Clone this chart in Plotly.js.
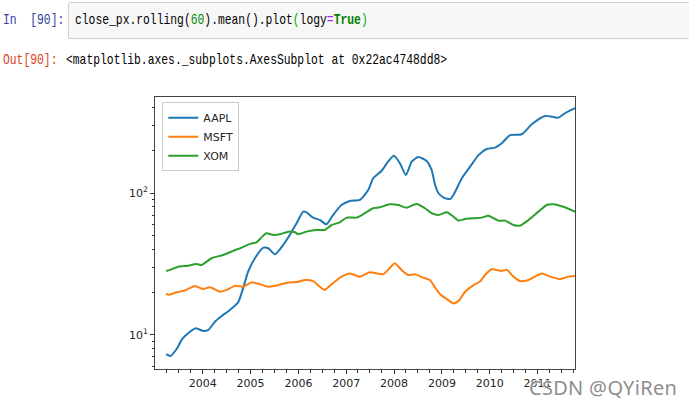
<!DOCTYPE html>
<html>
<head>
<meta charset="utf-8">
<script src="https://cdn.plot.ly/plotly-3.0.1.min.js"></script>
<style>
  html, body { margin:0; padding:0; background:#fff; width:689px; height:407px; overflow:hidden; }
  #chart { position:absolute; left:0; top:0; width:689px; height:407px; }
  .nb { position:absolute; z-index:10; font-family:"Liberation Mono", "DejaVu Sans Mono", monospace; font-size:15px; white-space:pre; transform-origin:left center; transform:scaleX(0.756); line-height:18px; }
  #inbox { position:absolute; z-index:9; left:68px; top:2px; width:640px; height:35px; background:#f7f7f7; border:1px solid #cfcfcf; border-radius:2px; }
  #wm { position:absolute; z-index:11; left:529px; top:374px; font-family:"Noto Sans", sans-serif; font-size:20px; color:#8e8e8e; white-space:pre; text-shadow:0 0 2px #fff, 0 0 2px #fff; letter-spacing:0.3px; }
</style>
</head>
<body>
<div id="chart"></div>
<div id="inbox"></div>
<div class="nb" style="left:3px; top:12px; color:#303F9F;">In  [90]:</div>
<div class="nb" style="left:75px; top:12px; color:#000;">close_px.rolling<span style="color:#000">(</span><span style="color:#008800">60</span>).mean().plot<span style="color:#00aa00">(</span>logy<span style="color:#AA22FF">=</span><span style="color:#008000;font-weight:bold">True</span><span style="color:#00aa00">)</span></div>
<div class="nb" style="left:3px; top:52px; color:#D84315;">Out[90]:</div>
<div class="nb" style="left:66px; top:52px; color:#000;">&lt;matplotlib.axes._subplots.AxesSubplot at 0x22ac4748dd8&gt;</div>
<div id="wm">CSDN @QYiRen</div>
<script>
const seriesNames = ['AAPL', 'MSFT', 'XOM'];
const seriesColors = ['#1f77b4', '#ff7f0e', '#2ca02c'];

const aaplDates = ['2003-03-28','2003-05-01','2003-06-16','2003-07-28','2003-09-12','2003-11-08','2004-01-05','2004-02-13','2004-04-04','2004-05-25','2004-07-27','2004-09-28','2004-11-05','2004-12-13','2005-02-03','2005-04-08','2005-05-16','2005-07-06','2005-09-07','2005-10-28','2005-12-18','2006-02-07','2006-03-04','2006-04-23','2006-06-13','2006-08-03','2006-09-23','2006-11-26','2007-01-29','2007-04-15','2007-06-18','2007-07-26','2007-09-27','2007-11-16','2007-12-31','2008-02-15','2008-04-01','2008-05-15','2008-07-04','2008-09-06','2008-10-14','2008-11-10','2008-12-06','2009-01-14','2009-03-04','2009-03-30','2009-06-02','2009-08-04','2009-10-07','2009-12-09','2010-02-11','2010-04-03','2010-06-05','2010-09-03','2010-11-18','2011-02-28','2011-06-09','2011-07-29','2011-10-02','2011-10-14'];
const aaplValues = [7.31,7.1,7.96,9.33,10.28,11.15,10.66,10.85,12.4,13.6,15.0,17.0,21.4,28.0,34.8,41.3,40.9,37.1,43.2,51,61.4,74.2,73.4,67.3,64.8,60.4,70.3,82.6,88.3,89.8,105.4,127.6,143.6,167,184,163,134.6,167,180,169,146,114.5,100,93.1,91.1,97.3,127.6,154,186,205.4,210,225.4,257.6,260.8,307,351.4,341.8,367,393.6,398];

const msftDates = ['2003-03-28','2003-04-13','2003-06-16','2003-08-18','2003-11-02','2004-01-05','2004-02-25','2004-05-12','2004-07-02','2004-09-03','2004-11-05','2005-01-09','2005-03-13','2005-05-16','2005-07-19','2005-10-03','2005-12-18','2006-02-20','2006-04-23','2006-06-13','2006-07-21','2006-09-11','2006-11-26','2007-01-29','2007-04-15','2007-07-01','2007-10-09','2007-11-29','2008-01-07','2008-02-27','2008-04-18','2008-06-08','2008-08-10','2008-10-01','2008-11-10','2008-12-18','2009-02-08','2009-03-30','2009-05-08','2009-06-27','2009-08-30','2009-10-19','2009-11-26','2010-01-17','2010-04-03','2010-05-11','2010-07-01','2010-08-20','2010-10-24','2011-02-02','2011-04-06','2011-06-21','2011-08-24','2011-10-14'];
const msftValues = [19.7,19.2,20.0,20.6,22.2,21.1,21.7,20.2,20.8,22.2,21.9,23.5,22.8,21.9,22.3,23.4,23.6,24.4,24.0,21.9,20.8,22.8,25.8,27.2,25.8,27.7,26.8,29.6,32.1,28.8,26.5,26.8,25.4,24.4,21.6,19.4,17.9,16.7,17.4,20.2,22.5,23.8,26.5,29.1,28.3,28.8,25.8,24.0,24.4,27.2,25.8,24.8,25.8,26.1];

const xomDates = ['2003-03-28','2003-04-26','2003-06-28','2003-09-12','2003-11-15','2003-12-23','2004-03-09','2004-06-06','2004-08-21','2004-10-24','2004-12-27','2005-02-16','2005-03-26','2005-05-03','2005-06-23','2005-08-13','2005-10-15','2005-12-05','2005-12-30','2006-03-04','2006-05-19','2006-07-21','2006-09-11','2006-11-13','2007-01-04','2007-03-21','2007-05-23','2007-07-26','2007-09-15','2007-11-29','2008-02-02','2008-04-06','2008-06-21','2008-08-24','2008-10-16','2008-12-06','2009-02-08','2009-03-30','2009-05-08','2009-06-27','2009-09-11','2009-11-01','2009-12-22','2010-03-08','2010-04-28','2010-07-01','2010-08-20','2010-10-24','2011-01-08','2011-03-12','2011-05-02','2011-07-17','2011-10-14'];
const xomValues = [28.3,28.8,30.3,30.8,31.7,31.2,34.8,36.7,39.2,41.3,43.9,45.1,48.9,52.2,50.8,51.4,53.6,53.1,51.4,53.6,55.1,55.1,59.7,62.4,67.3,67.3,72.3,78.4,79.6,83.6,82.6,79.1,84.0,78.4,72.3,70.3,73.4,68.4,64.1,65.9,66.7,67.3,69.5,64.1,64.1,59.7,59.1,64.8,74.2,82.6,83.6,80.4,74.2];

const xRange = ['2003-01-02', '2011-10-14'];
const yearTickLabels = ['2004','2005','2006','2007','2008','2009','2010','2011'];
const yTickValues = [10, 100];
const yTickLabels = ['10<sup>1</sup>', '10<sup>2</sup>'];
const yMinorTicks = [6,7,8,9,20,30,40,50,60,70,80,90,200,300,400];
const yRange = [5.75, 478];

const dates = [aaplDates, msftDates, xomDates];
const values = [aaplValues, msftValues, xomValues];

const traces = seriesNames.map((n, i) => ({
  x: dates[i], y: values[i], name: n, type: 'scatter', mode: 'lines',
  line: { color: seriesColors[i], width: 2, shape: 'spline', smoothing: 0.6 }
}));

const tickFont = { family: 'DejaVu Sans', size: 11, color: '#262626' };
const layout = {
  width: 689, height: 407,
  margin: { l: 155, r: 114, t: 97, b: 38, pad: 0 },
  paper_bgcolor: 'rgba(0,0,0,0)', plot_bgcolor: '#fff',
  showlegend: true,
  legend: {
    x: 0.0174, y: 0.981, xanchor: 'left', yanchor: 'top',
    bgcolor: 'rgba(255,255,255,0.85)', bordercolor: '#cccccc', borderwidth: 1,
    font: { family: 'DejaVu Sans', size: 11, color: '#262626' }
  },
  xaxis: {
    type: 'date', range: xRange,
    tickmode: 'array', tickvals: yearTickLabels.map(y => y + '-01-01'), ticktext: yearTickLabels,
    ticks: 'outside', ticklen: 4, tickwidth: 1, tickcolor: '#333',
    minor: { dtick: 'M3', tick0: '2003-01-01', ticks: 'outside', ticklen: 2.5, tickwidth: 1, tickcolor: '#333', showgrid: false },
    showline: true, mirror: true, linecolor: '#444', linewidth: 1,
    showgrid: false, zeroline: false, tickfont: tickFont
  },
  yaxis: {
    type: 'log', range: yRange.map(Math.log10),
    tickmode: 'array', tickvals: yTickValues, ticktext: yTickLabels,
    ticks: 'outside', ticklen: 4, tickwidth: 1, tickcolor: '#333',
    minor: { tickmode: 'array', tickvals: yMinorTicks, ticks: 'outside', ticklen: 2.5, tickwidth: 1, tickcolor: '#333', showgrid: false },
    showline: true, mirror: true, linecolor: '#444', linewidth: 1,
    showgrid: false, zeroline: false, tickfont: tickFont
  }
};
Plotly.newPlot('chart', traces, layout, { displayModeBar: false, staticPlot: true });
</script>
</body>
</html>
